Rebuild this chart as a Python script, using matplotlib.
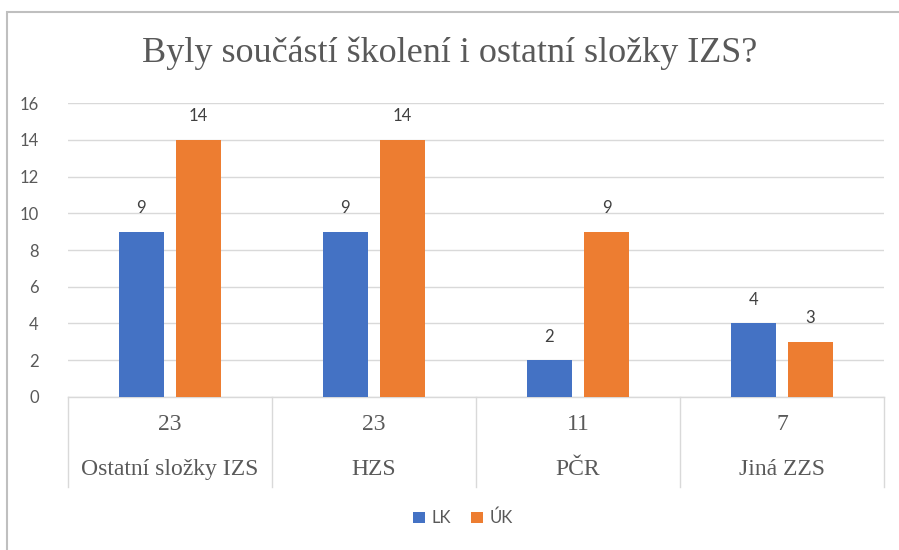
import numpy as np
import matplotlib.pyplot as plt
from matplotlib.patches import Rectangle

# data
categories = ["Ostatní složky IZS", "HZS", "PČR", "Jiná ZZS"]
totals = [23, 23, 11, 7]
lk = [9, 9, 2, 4]
uk = [14, 14, 9, 3]
series_names = ["LK", "ÚK"]
yticks = [0, 2, 4, 6, 8, 10, 12, 14, 16]

blue = "#4472c4"
orange = "#ed7d31"
grid_c = "#d9d9d9"
txt_c = "#595959"
sans = ["Lato", "DejaVu Sans"]
serif = ["Liberation Serif", "DejaVu Serif"]

fig = plt.figure(figsize=(8.99, 5.5), dpi=100)
ax = fig.add_axes([0.0756, 0.2782, 0.9077, 0.5345])

x = np.arange(len(categories))
w = 0.22
b1 = ax.bar(x - 0.14, lk, w, color=blue, label=series_names[0], zorder=3)
b2 = ax.bar(x + 0.14, uk, w, color=orange, label=series_names[1], zorder=3)

# popisky hodnot
for bars in (b1, b2):
    for r in bars:
        ax.text(r.get_x() + r.get_width() / 2, r.get_height() + 0.85, f"{int(r.get_height())}",
                ha="center", va="bottom", fontsize=12, color="#404040", family=sans)

ax.set_xlim(-0.5, len(categories) - 0.5)
ax.set_ylim(0, 16)
ax.set_yticks(yticks)
ax.set_yticklabels([str(t) for t in yticks], fontsize=12, color=txt_c, family=sans)
ax.tick_params(axis="y", length=0, pad=21)
ax.set_xticks([])
ax.grid(axis="y", color=grid_c, linewidth=1, zorder=0)
for s in ["top", "right", "left"]:
    ax.spines[s].set_visible(False)
ax.spines["bottom"].set_color(grid_c)
ax.spines["bottom"].set_linewidth(1)

# dvouurovnova osa x
trans = ax.get_xaxis_transform()
for b in np.arange(len(categories) + 1) - 0.5:
    ax.plot([b, b], [0, -0.306], transform=trans, color=grid_c, lw=1, clip_on=False)
for i, (c, t) in enumerate(zip(categories, totals)):
    ax.text(i, -0.095, str(t), transform=trans, ha="center", va="center",
            fontsize=17, color=txt_c, family=serif)
    ax.text(i, -0.248, c, transform=trans, ha="center", va="center",
            fontsize=17, color=txt_c, family=serif)

fig.text(0.5, 1 - 53 / 550, "Byly součástí školení i ostatní složky IZS?", ha="center", va="center",
         fontsize=26, color=txt_c, family=serif)

fig.legend(loc="center", bbox_to_anchor=(463 / 899, 1 - 518 / 550), ncol=2, frameon=False,
           prop={"family": sans, "size": 12}, labelcolor=txt_c, handlelength=0.7, handleheight=0.7,
           columnspacing=1.2, handletextpad=0.4)

# ramecek grafu
fig.patches.append(Rectangle((7 / 899, -0.1), 1.2, 1.1 - 12 / 550, transform=fig.transFigure,
                             fill=False, edgecolor="#bfbfbf", lw=1.5))

fig.savefig("out.png", dpi=100)
